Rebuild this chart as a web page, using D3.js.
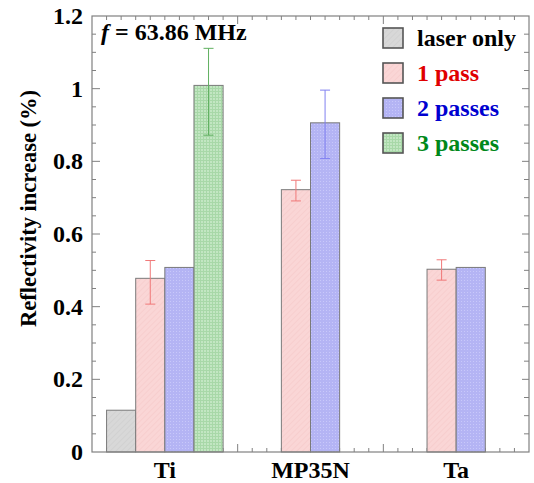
<!DOCTYPE html>
<html>
<head>
    <script src="https://d3js.org/d3.v7.min.js"></script>
</head>
<body style="margin:0">
    <script>
        // Data
        const materials = ["Ti", "MP35N", "Ta"];
        const seriesNames = ["laser only", "1 pass", "2 passes", "3 passes"];
        const laserOnly = [0.115, null, null];
        const onePass = [0.478, 0.722, 0.503];
        const twoPasses = [0.508, 0.906, 0.508];
        const threePasses = [1.009, null, null];
        // error bar ends [low, high], null = none
        const onePassErr = [[0.407, 0.527], [0.691, 0.748], [0.473, 0.529]];
        const twoPassesErr = [null, [0.808, 0.996], null];
        const threePassesErr = [[0.872, 1.111], null, null];
        const yTicks = [0, 0.2, 0.4, 0.6, 0.8, 1, 1.2];

        const textColors = ["#000000", "#e00000", "#0000d0", "#00881a"];
        const errColors = [null, "#f07878", "#8080f0", "#60b060"];
        const serif = '"Liberation Serif", "Nimbus Roman", FreeSerif, Tinos, "Times New Roman"';

        const width = 534, height = 483;
        const margin = { top: 16, right: 5, bottom: 31, left: 92 };
        const iw = width - margin.left - margin.right;
        const ih = height - margin.top - margin.bottom;

        const svg = d3.select("body").append("svg")
            .attr("width", width)
            .attr("height", height);

        // every label gets its font before it gets its text
        function label(parent, size) {
            return parent.append("text")
                .attr("font-size", size)
                .attr("font-weight", "bold")
                .style("font-family", serif);
        }

        // hatch patterns
        const defs = svg.append("defs");
        function diag(id, bg, line) {
            const p = defs.append("pattern").attr("id", id)
                .attr("patternUnits", "userSpaceOnUse").attr("width", 4).attr("height", 4)
                .attr("patternTransform", "rotate(45)");
            p.append("rect").attr("width", 4).attr("height", 4).attr("fill", bg);
            p.append("line").attr("x1", 0).attr("y1", 0).attr("x2", 0).attr("y2", 4)
                .attr("stroke", line).attr("stroke-width", 1);
        }
        diag("p0", "#d8d8d8", "#cacaca");
        diag("p1", "#fad6d6", "#f4c6c6");
        const pd = defs.append("pattern").attr("id", "p2")
            .attr("patternUnits", "userSpaceOnUse").attr("width", 3).attr("height", 3);
        pd.append("rect").attr("width", 3).attr("height", 3).attr("fill", "#b4b4f4");
        pd.append("rect").attr("width", 1).attr("height", 1).attr("fill", "#c8c8fa");
        const pg = defs.append("pattern").attr("id", "p3")
            .attr("patternUnits", "userSpaceOnUse").attr("width", 3).attr("height", 3);
        pg.append("rect").attr("width", 3).attr("height", 3).attr("fill", "#c2e6c2");
        pg.append("rect").attr("width", 3).attr("height", 1).attr("fill", "#a8d8a8");
        pg.append("rect").attr("width", 1).attr("height", 3).attr("fill", "#a8d8a8");

        const g = svg.append("g").attr("transform", `translate(${margin.left},${margin.top})`);

        const x = d3.scaleBand().domain(materials).range([0, iw]).padding(0);
        const xs = d3.scaleBand().domain(seriesNames).range([0, x.bandwidth()]).paddingInner(0).paddingOuter(0.5);
        const y = d3.scaleLinear().domain([0, 1.2]).range([ih, 0]);

        const axisColor = "#808080";

        // bars
        const values = [laserOnly, onePass, twoPasses, threePasses];
        const errs = [null, onePassErr, twoPassesErr, threePassesErr];
        const bars = [];
        values.forEach((vals, s) => {
            vals.forEach((v, i) => {
                if (v != null) bars.push({ s, m: materials[i], v, e: errs[s] ? errs[s][i] : null });
            });
        });

        // minor ticks along x (10 per category), drawn before bars
        const xMinor = d3.range(1, 30).map(k => k * iw / 30);

        g.selectAll(".xtick-b").data(xMinor).join("line")
            .attr("x1", d => d).attr("x2", d => d)
            .attr("y1", ih).attr("y2", (d, i) => (i + 1) % 10 === 0 ? ih - 8 : ih - 4)
            .attr("stroke", axisColor).attr("stroke-width", 1);
        g.selectAll(".xtick-t").data(xMinor).join("line")
            .attr("x1", d => d).attr("x2", d => d)
            .attr("y1", 0).attr("y2", (d, i) => (i + 1) % 10 === 0 ? 8 : 4)
            .attr("stroke", axisColor).attr("stroke-width", 1);

        g.selectAll(".bar").data(bars).join("rect")
            .attr("x", d => x(d.m) + xs(seriesNames[d.s]))
            .attr("width", xs.bandwidth())
            .attr("y", d => y(d.v))
            .attr("height", d => ih - y(d.v))
            .attr("fill", d => `url(#p${d.s})`)
            .attr("stroke", "#7a7a7a").attr("stroke-width", 1);

        // error bars
        const eb = bars.filter(d => d.e);
        const cx = d => x(d.m) + xs(seriesNames[d.s]) + xs.bandwidth() / 2;
        g.selectAll(".err").data(eb).join("line")
            .attr("x1", cx).attr("x2", cx)
            .attr("y1", d => y(d.e[0])).attr("y2", d => y(d.e[1]))
            .attr("stroke", d => errColors[d.s]).attr("stroke-width", 1);
        [0, 1].forEach(k => {
            g.selectAll(".cap" + k).data(eb).join("line")
                .attr("x1", d => cx(d) - 5).attr("x2", d => cx(d) + 5)
                .attr("y1", d => y(d.e[k])).attr("y2", d => y(d.e[k]))
                .attr("stroke", d => errColors[d.s]).attr("stroke-width", 1);
        });

        // y ticks (major 0.2, minor 0.05) on left and right
        const yMinor = d3.range(1, 24).map(k => k * 0.05);
        yMinor.forEach((v, i) => {
            const major = (i + 1) % 4 === 0;
            g.append("line").attr("x1", 0).attr("x2", major ? 8 : 4).attr("y1", y(v)).attr("y2", y(v))
                .attr("stroke", axisColor);
            g.append("line").attr("x1", iw).attr("x2", iw - (major ? 7 : 5)).attr("y1", y(v)).attr("y2", y(v))
                .attr("stroke", axisColor);
        });

        // frame
        g.append("rect").attr("x", 0).attr("y", 0).attr("width", iw).attr("height", ih)
            .attr("fill", "none").attr("stroke", axisColor).attr("stroke-width", 1.2);

        // y tick labels
        yTicks.forEach(v => {
            label(g, 24).attr("x", -9).attr("y", y(v) + 8)
                .attr("text-anchor", "end").text(String(v));
        });

        // x labels
        materials.forEach(m => {
            label(g, 24).attr("x", x(m) + x.bandwidth() / 2).attr("y", ih + 26)
                .attr("text-anchor", "middle").text(m);
        });

        // y axis title
        label(svg, 22.5)
            .attr("transform", "translate(36,208.5) rotate(-90)")
            .attr("text-anchor", "middle")
            .text("Reflectivity increase (%)");

        // frequency annotation
        const ann = label(g, 24).attr("x", 9).attr("y", 24);
        ann.append("tspan").style("font-style", "italic").text("f");
        ann.append("tspan").text(" = 63.86 MHz");

        // legend
        const leg = svg.append("g").attr("transform", "translate(383,28)");
        seriesNames.forEach((name, i) => {
            const row = leg.append("g").attr("transform", `translate(0,${i * 35})`);
            row.append("rect").attr("width", 20).attr("height", 20)
                .attr("fill", `url(#p${i})`).attr("stroke", "#555").attr("stroke-width", 1.6);
            label(row, 24).attr("x", 34).attr("y", 18)
                .attr("fill", textColors[i]).text(name);
        });
    </script>
</body>
</html>
